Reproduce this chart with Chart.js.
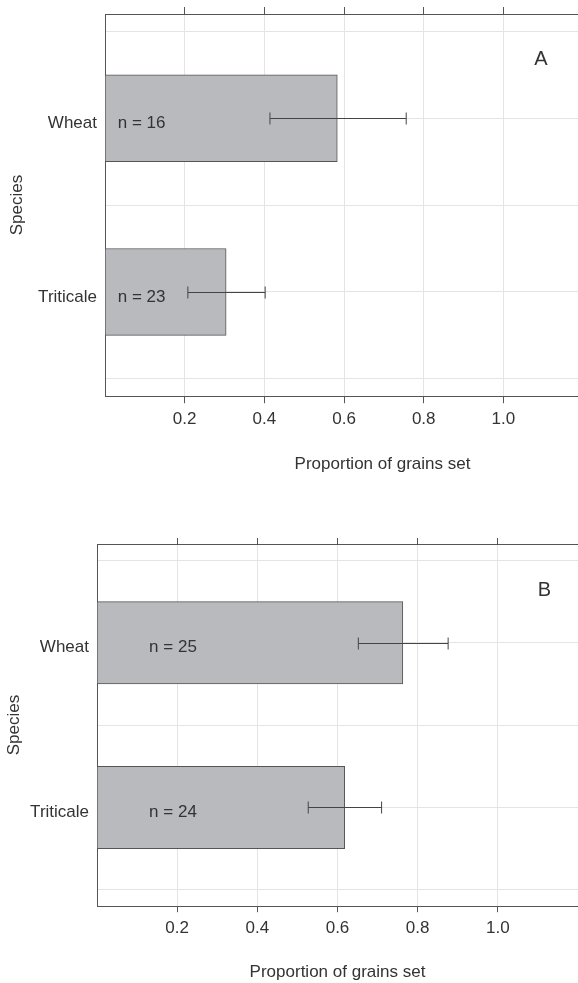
<!DOCTYPE html>
<html>
<head>
<meta charset="utf-8">
<script src="https://cdn.jsdelivr.net/npm/chart.js@4.4.1/dist/chart.umd.min.js"></script>
<style>
  html, body { margin: 0; padding: 0; background: #fff; overflow: hidden; }
  .panel { position: absolute; left: 0; }
</style>
</head>
<body>
<div class="panel" style="top:0;"><canvas id="chartA" width="660" height="500"></canvas></div>
<div class="panel" style="top:520px;"><canvas id="chartB" width="578" height="463"></canvas></div>
<script>
// Categories (top to bottom)
const species = ['Wheat', 'Triticale'];
const xTicks = [0.2, 0.4, 0.6, 0.8, 1.0];

// Panel A
const meanA = [0.583, 0.304];
const lowA = [0.414, 0.208];
const highA = [0.756, 0.402];
const nA = [16, 23];

// Panel B
const meanB = [0.763, 0.618];
const lowB = [0.652, 0.527];
const highB = [0.876, 0.710];
const nB = [25, 24];

Chart.defaults.font.family = '"Liberation Sans", Arial, sans-serif';
Chart.defaults.font.size = 17;
Chart.defaults.color = '#333';

const GRID = '#e4e4e4';
const AXIS = '#555';

// y position of each category: Wheat on top
const rowPos = (i) => species.length - i;

function makePanel(id, p) {
    const ctx = document.getElementById(id).getContext('2d');

    // error bars, "n = .." labels and panel letter
    const extras = {
        id: 'extras',
        afterDatasetsDraw(chart) {
            const c = chart.ctx;
            const x = chart.scales.x, y = chart.scales.y;
            c.save();
            c.strokeStyle = '#444';
            c.lineWidth = 1;
            p.low.forEach((lo, i) => {
                const py = Math.round(y.getPixelForValue(rowPos(i))) + 0.5;
                const x0 = x.getPixelForValue(lo);
                const x1 = x.getPixelForValue(p.high[i]);
                c.beginPath();
                c.moveTo(x0, py); c.lineTo(x1, py);
                c.moveTo(x0, py - 6); c.lineTo(x0, py + 6);
                c.moveTo(x1, py - 6); c.lineTo(x1, py + 6);
                c.stroke();
            });
            c.fillStyle = '#333';
            c.font = '17px "Liberation Sans", Arial, sans-serif';
            c.textAlign = 'left';
            c.textBaseline = 'middle';
            p.n.forEach((n, i) => {
                c.fillText('n = ' + n, x.getPixelForValue(p.nx), y.getPixelForValue(rowPos(i)) + 5);
            });
            c.font = '20px "Liberation Sans", Arial, sans-serif';
            c.textAlign = 'center';
            c.fillText(p.letter, x.getPixelForValue(p.letterAt[0]), y.getPixelForValue(p.letterAt[1]));
            c.restore();
        }
    };

    const keepTicks = (axis) => {
        axis.ticks = xTicks.map(v => ({ value: v }));
    };

    new Chart(ctx, {
        type: 'bar',
        data: {
            datasets: [{
                data: species.map((s, i) => ({ x: p.mean[i], y: rowPos(i) })),
                backgroundColor: '#b9babe',
                borderColor: AXIS,
                borderWidth: 1,
                borderSkipped: false,
                barPercentage: 1,
                categoryPercentage: 1,
            }],
        },
        options: {
            indexAxis: 'y',
            responsive: false,
            animation: false,
            layout: { padding: { top: p.padTop, bottom: p.padBottom, left: 0, right: 0 } },
            plugins: { legend: { display: false }, tooltip: { enabled: false } },
            scales: {
                x: {
                    type: 'linear',
                    position: 'bottom',
                    min: 0,
                    max: p.xMax,
                    afterBuildTicks: keepTicks,
                    grid: { color: GRID, tickColor: AXIS, tickLength: p.tick, drawTicks: true },
                    border: { color: AXIS, width: 1 },
                    ticks: { padding: 6, maxRotation: 0, callback: v => v.toFixed(1) },
                    title: {
                        display: true,
                        text: 'Proportion of grains set',
                        padding: { top: p.titlePad, bottom: 0 },
                    },
                },
                x2: {
                    type: 'linear',
                    axis: 'x',
                    position: 'top',
                    min: 0,
                    max: p.xMax,
                    afterBuildTicks: keepTicks,
                    grid: { drawOnChartArea: false, tickColor: AXIS, tickLength: p.tick },
                    border: { color: AXIS, width: 1 },
                    ticks: { display: false },
                },
                y: {
                    type: 'linear',
                    min: 0.4,
                    max: 2.6,
                    offset: false,
                    afterFit: (axis) => {
                        axis.width = p.yWidth;
                        axis.paddingTop = 0;
                        axis.paddingBottom = 0;
                    },
                    grid: { color: GRID, drawTicks: false, offset: false },
                    border: { color: AXIS, width: 1 },
                    ticks: {
                        stepSize: 0.5,
                        includeBounds: false,
                        padding: 8,
                        labelOffset: 5,
                        callback: v => (Number.isInteger(v) ? species[species.length - v] : ''),
                    },
                    title: {
                        display: true,
                        text: 'Species',
                        padding: { top: p.yTitlePad, bottom: 0 },
                    },
                },
            },
        },
        plugins: [extras],
    });
}

makePanel('chartA', {
    mean: meanA, low: lowA, high: highA, n: nA,
    xMax: 1.393, padTop: 7, padBottom: 25, tick: 7, titlePad: 19,
    yWidth: 105, yTitlePad: 7, nx: 0.032, letter: 'A', letterAt: [1.094, 2.336],
});

makePanel('chartB', {
    mean: meanB, low: lowB, high: highB, n: nB,
    xMax: 1.2, padTop: 18, padBottom: 0, tick: 6, titlePad: 18,
    yWidth: 97, yTitlePad: 4, nx: 0.13, letter: 'B', letterAt: [1.116, 2.32],
});
</script>
</body>
</html>
